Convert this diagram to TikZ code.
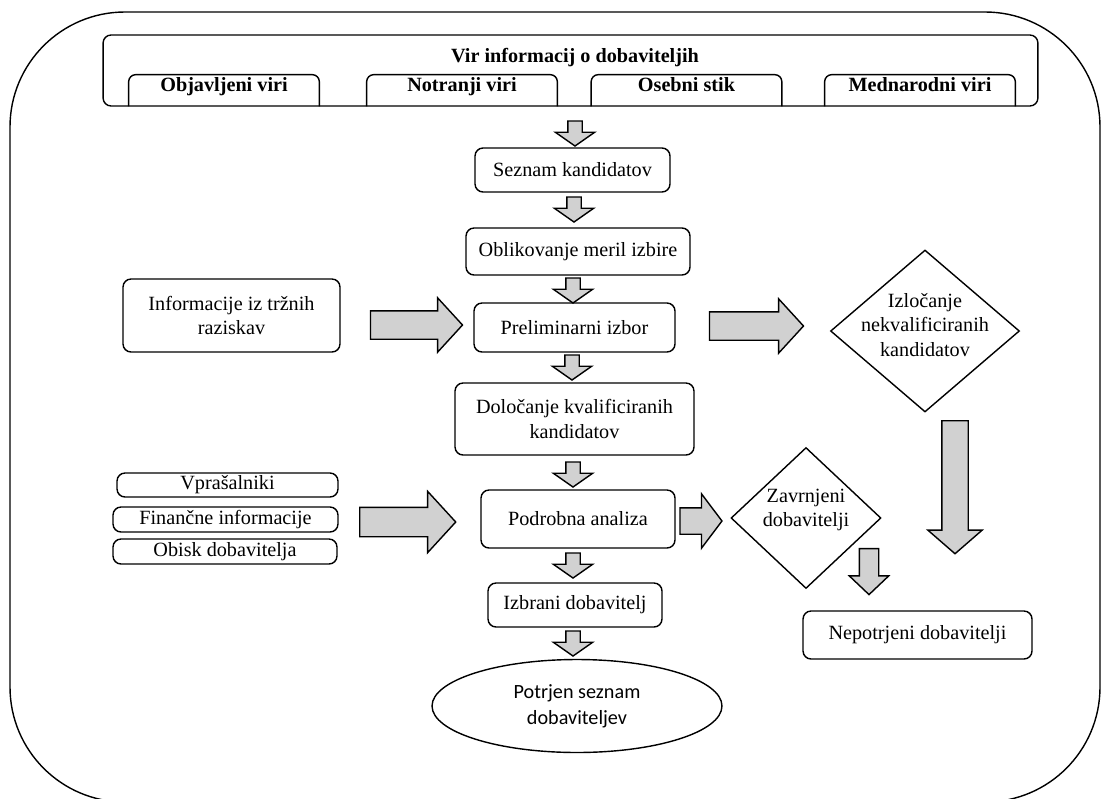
\documentclass[tikz,border=0pt]{standalone}
\usepackage{fontspec}
\setmainfont{Liberation Serif}
\newfontfamily\calibrifont{Carlito}
\usepackage{tikz}
\usetikzlibrary{shapes,arrows,positioning,calc}

\newcommand{\boxfont}{\fontsize{11.5}{14}\selectfont}

\begin{document}
\begin{tikzpicture}[x=0.02cm, y=-0.02cm,
    box/.style={rectangle, draw, line width=0.8pt, rounded corners=0.16cm, align=center, font=\boxfont, inner sep=0pt},
    tab/.style={rectangle, inner sep=0pt, minimum width=3.8cm, minimum height=0.62cm, font=\boxfont\bfseries,
        text height=0.28cm, text depth=0.24cm},
    choice/.style={diamond, draw, line width=0.8pt, inner sep=0pt},
    darrow/.style={single arrow, draw, fill=black!18, line width=0.8pt, inner sep=0pt, minimum width=0pt,
        text height=0.26cm, text depth=0pt, single arrow head extend=0.25cm, single arrow tip angle=110,
        minimum height=0.5cm, rotate=-90},
    bigarrow/.style={single arrow, draw, fill=black!18, line width=0.8pt, inner sep=0pt, minimum width=0pt,
        text height=0.54cm, text depth=0pt, single arrow head extend=0.26cm, single arrow tip angle=95}
]
    \useasboundingbox (0,0) rectangle (1105,798);
    \clip (0,0) rectangle (1105,798);

    % outer frame
    \draw[line width=0.8pt, rounded corners=2.3cm] (10,12) rectangle (1100,802);

    % sources
    \node[box, minimum width=18.7cm, minimum height=1.42cm] (src) at (570.5,70.5) {};
    \node[font=\boxfont\bfseries] (srctitle) at (575,58) {Vir informacij o dobaviteljih};
    \node[tab] (t1) at (224,90.5) {Objavljeni viri};
    \node[tab] (t2) at (462,90.5) {Notranji viri};
    \node[tab] (t3) at (686.5,90.5) {Osebni stik};
    \node[tab] (t4) at (920,90.5) {Mednarodni viri};
    \foreach \t in {t1,t2,t3,t4}
        \draw[line width=0.8pt, rounded corners=0.14cm] (\t.south west) -- (\t.north west) -- (\t.north east) -- (\t.south east);

    % main column
    \node[box, minimum width=3.9cm, minimum height=0.88cm] (seznam) at (572.5,170) {Seznam kandidatov};
    \node[box, minimum width=4.48cm, minimum height=0.94cm] (merila) at (578,251.5) {Oblikovanje meril izbire};
    \node[box, minimum width=4.02cm, minimum height=0.98cm] (prelim) at (574.5,327.5) {Preliminarni izbor};
    \node[box, minimum width=4.78cm, minimum height=1.44cm] (kval) at (574.5,419) {Določanje kvalificiranih\\kandidatov};
    \node[box, minimum width=3.88cm, minimum height=1.16cm] (analiza) at (578,519) {Podrobna analiza};
    \node[box, minimum width=3.48cm, minimum height=0.88cm] (izbrani) at (575,605) {Izbrani dobavitelj};
    \node[ellipse, draw, line width=0.8pt, minimum width=5.8cm, minimum height=1.86cm, align=center,
        font=\calibrifont\fontsize{11.5}{15}\selectfont] (potrjen) at (577,706) {Potrjen seznam\\dobaviteljev};

    \node[darrow] (a1) at (575,131) {};
    \node[darrow] (a2) at (574,207) {};
    \node[darrow] (a3) at (573,288) {};
    \node[darrow] (a4) at (572,365) {};
    \node[darrow] (a5) at (573,472) {};
    \node[darrow] (a6) at (573,563) {};
    \node[darrow] (a7) at (573,641) {};

    % left inputs
    \node[box, minimum width=4.34cm, minimum height=1.46cm] (trg) at (231.5,315.5) {Informacije iz tržnih\\raziskav};
    \node[box, minimum width=4.42cm, minimum height=0.48cm] (vpras) at (227.5,485) {Vprašalniki};
    \node[box, minimum width=4.5cm, minimum height=0.5cm] (fin) at (225.5,519.5) {Finančne informacije};
    \node[box, minimum width=4.48cm, minimum height=0.5cm] (obisk) at (225,551.5) {Obisk dobavitelja};

    \node[bigarrow, minimum height=1.84cm] (b1) at (410,325) {};
    \node[bigarrow, minimum height=1.92cm, text height=0.56cm, single arrow head extend=0.32cm] (b2) at (401,522) {};

    % right side
    \node[bigarrow, minimum height=1.88cm] (b3) at (750,326) {};
    \node[choice, minimum width=3.78cm, minimum height=3.24cm,
        label={[align=center, font=\boxfont, yshift=0.12cm]center:Izločanje\\nekvalificiranih\\kandidatov}] (izloc) at (925,331) {};
    \node[bigarrow, minimum height=0.84cm, text height=0.5cm, single arrow head extend=0.28cm, single arrow tip angle=106] (b4) at (696,521) {};
    \node[choice, minimum width=3.0cm, minimum height=2.82cm,
        label={[align=center, font=\boxfont, yshift=0.16cm]center:Zavrnjeni\\dobavitelji}] (zavr) at (806,518) {};
    \node[bigarrow, minimum height=2.66cm, text height=0.5cm, single arrow head extend=0.28cm, single arrow tip angle=98, rotate=-90] (b5) at (955,481.5) {};
    \node[darrow, minimum height=0.92cm, text height=0.36cm, single arrow head extend=0.2cm, single arrow tip angle=93] (b6) at (869,567) {};
    \node[box, minimum width=4.58cm, minimum height=0.96cm] (nepotr) at (917.5,635) {Nepotrjeni dobavitelji};
\end{tikzpicture}
\end{document}
